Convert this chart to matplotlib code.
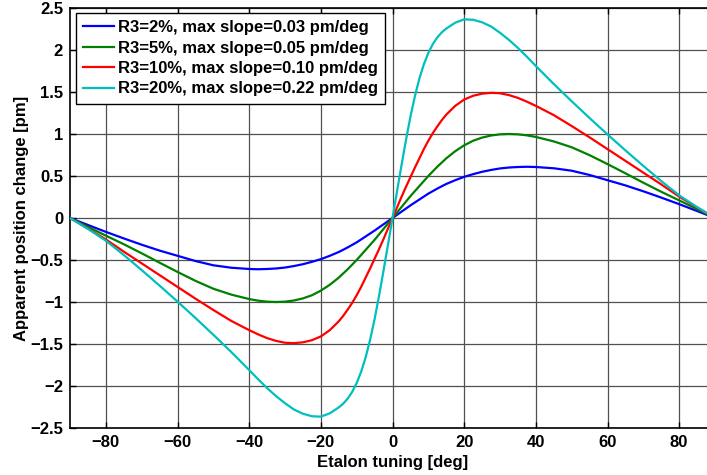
import matplotlib
matplotlib.use("Agg")
import matplotlib.pyplot as plt

plt.rcParams['font.family'] = ['Liberation Sans', 'DejaVu Sans']
plt.rcParams['font.weight'] = 'bold'

# Etalon tuning angle [deg]
tuning = [-90, -85, -80, -75, -70, -65, -60, -55, -50, -45,
          -40, -37.5, -35, -32.5, -30, -27.5, -25, -22.5, -20, -17.5,
          -15, -13.75, -12.5, -11.25, -10, -8.75, -7.5, -6.25, -5, -3.75, -2.5, -1.25,
          0,
          1.25, 2.5, 3.75, 5, 6.25, 7.5, 8.75, 10, 11.25, 12.5, 13.75, 15,
          17.5, 20, 22.5, 25, 27.5, 30, 32.5, 35, 37.5, 40,
          45, 50, 55, 60, 65, 70, 75, 80, 85, 90]

r3_2 = [0.0, -0.083, -0.165, -0.243, -0.318, -0.388, -0.45, -0.512, -0.563, -0.592,
        -0.607, -0.61, -0.607, -0.601, -0.59, -0.572, -0.55, -0.522, -0.49, -0.45,
        -0.405, -0.378, -0.35, -0.32, -0.29, -0.255, -0.22, -0.185, -0.15, -0.112, -0.075, -0.0375,
        0.0,
        0.0375, 0.075, 0.112, 0.15, 0.185, 0.22, 0.255, 0.29, 0.32, 0.35, 0.378, 0.405,
        0.45, 0.49, 0.522, 0.55, 0.572, 0.59, 0.601, 0.607, 0.61, 0.607,
        0.592, 0.563, 0.512, 0.45, 0.388, 0.318, 0.243, 0.165, 0.083, 0.0]

r3_5 = [0.0, -0.105, -0.21, -0.312, -0.42, -0.532, -0.642, -0.748, -0.842, -0.912,
        -0.965, -0.984, -0.996, -1.0, -0.996, -0.982, -0.957, -0.92, -0.865, -0.795,
        -0.71, -0.66, -0.61, -0.555, -0.50, -0.44, -0.38, -0.32, -0.26, -0.195, -0.13, -0.065,
        0.0,
        0.065, 0.13, 0.195, 0.26, 0.32, 0.38, 0.44, 0.50, 0.555, 0.61, 0.66, 0.71,
        0.795, 0.865, 0.92, 0.957, 0.982, 0.996, 1.0, 0.996, 0.984, 0.965,
        0.912, 0.842, 0.748, 0.642, 0.532, 0.42, 0.312, 0.21, 0.105, 0.0]

r3_10 = [0.0, -0.125, -0.255, -0.40, -0.54, -0.68, -0.82, -0.96, -1.095, -1.225,
         -1.335, -1.385, -1.43, -1.463, -1.485, -1.49, -1.48, -1.455, -1.41, -1.335,
         -1.23, -1.165, -1.09, -1.01, -0.92, -0.82, -0.71, -0.60, -0.485, -0.37, -0.25, -0.125,
         0.0,
         0.125, 0.25, 0.37, 0.485, 0.60, 0.71, 0.82, 0.92, 1.01, 1.09, 1.165, 1.23,
         1.335, 1.41, 1.455, 1.48, 1.49, 1.485, 1.463, 1.43, 1.385, 1.335,
         1.225, 1.095, 0.96, 0.82, 0.68, 0.54, 0.40, 0.255, 0.125, 0.0]

r3_20 = [0.0, -0.13, -0.27, -0.44, -0.62, -0.805, -0.995, -1.19, -1.39, -1.595,
         -1.81, -1.92, -2.025, -2.12, -2.205, -2.28, -2.33, -2.36, -2.365, -2.325,
         -2.255, -2.21, -2.15, -2.07, -1.965, -1.83, -1.66, -1.45, -1.205, -0.925, -0.625, -0.315,
         0.0,
         0.315, 0.625, 0.925, 1.205, 1.45, 1.66, 1.83, 1.965, 2.07, 2.15, 2.21, 2.255,
         2.325, 2.365, 2.36, 2.33, 2.28, 2.205, 2.12, 2.025, 1.92, 1.81,
         1.595, 1.39, 1.19, 0.995, 0.805, 0.62, 0.44, 0.27, 0.13, 0.0]

labels = ['R3=2%, max slope=0.03 pm/deg',
          'R3=5%, max slope=0.05 pm/deg',
          'R3=10%, max slope=0.10 pm/deg',
          'R3=20%, max slope=0.22 pm/deg']
colors = ['#0000ff', '#008000', '#ff0000', '#00bfbf']
series = [r3_2, r3_5, r3_10, r3_20]

xticks = [-80, -60, -40, -20, 0, 20, 40, 60, 80]
yticks = [-2.5, -2, -1.5, -1, -0.5, 0, 0.5, 1, 1.5, 2, 2.5]

fig = plt.figure(figsize=(7.07, 4.75), dpi=100)
ax = fig.add_axes([70/707, 1-428/475, (715-70)/707, (428-8)/475])

for ys, c, lab in zip(series, colors, labels):
    ax.plot(tuning, ys, color=c, lw=1.6, label=lab, zorder=3,
            solid_joinstyle='round')

ax.set_xlim(-90, 90)
ax.set_ylim(-2.5, 2.5)
ax.set_xticks(xticks)
ax.set_yticks(yticks)
ax.set_xticklabels([str(t).replace('-', '\u2212') for t in xticks])
ax.set_yticklabels([('%g' % t).replace('-', '\u2212') for t in yticks])
ax.grid(True, color='#505050', lw=0.9, zorder=1)
ax.tick_params(direction='in', length=4, width=1, labelsize=12, pad=5,
               top=True, right=True, color='black')
for s in ax.spines.values():
    s.set_linewidth(1.2)
    s.set_color('black')

ax.set_xlabel('Etalon tuning [deg]', fontsize=12, fontweight='bold', labelpad=4)
ax.set_ylabel('Apparent position change [pm]', fontsize=12, fontweight='bold', labelpad=1)

leg = ax.legend(loc='upper left', bbox_to_anchor=(6/645, 1-5/420), fontsize=12,
                frameon=True, fancybox=False, edgecolor='black', framealpha=1,
                handlelength=1.85, handletextpad=0.25, borderpad=0.42, labelspacing=0.33,
                borderaxespad=0)
leg.get_frame().set_linewidth(1.0)
for t in leg.get_texts():
    t.set_fontweight('bold')

fig.savefig('out.png', dpi=100)
